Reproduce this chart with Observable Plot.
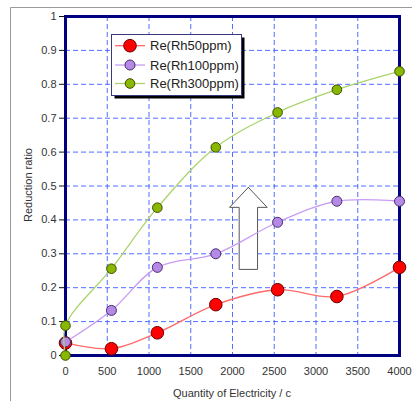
<!DOCTYPE html>
<html><head><meta charset="utf-8">
<script src="https://cdn.jsdelivr.net/npm/d3@7"></script>
<script src="https://cdn.jsdelivr.net/npm/@observablehq/plot@0.6"></script>
<style>
html,body{margin:0;padding:0;background:#fff;overflow:hidden}
#wrap{position:relative;width:412px;height:401px}
</style></head><body><div id="wrap"></div>
<script>
// ---- data ----
const qty = [0, 550, 1100, 1800, 2540, 3250, 4000];
const rh50 = [0.037, 0.02, 0.067, 0.15, 0.194, 0.174, 0.26];
const rh100 = [0.04, 0.133, 0.26, 0.30, 0.393, 0.455, 0.455];
const qty300 = [0, 0, 550, 1100, 1800, 2540, 3250, 4000];
const rh300 = [0, 0.088, 0.256, 0.436, 0.614, 0.717, 0.784, 0.838];
const seriesNames = ["Re(Rh50ppm)", "Re(Rh100ppm)", "Re(Rh300ppm)"];
const xTicks = [0, 500, 1000, 1500, 2000, 2500, 3000, 3500, 4000];
const yTicks = [0, 0.1, 0.2, 0.3, 0.4, 0.5, 0.6, 0.7, 0.8, 0.9, 1];
// arrow annotation (data units)
const arrowCenter = 2190, arrowHalfHead = 225, arrowHalfShaft = 110;
const arrowTop = 0.496, arrowNeck = 0.437, arrowBottom = 0.254;

const styles = [
  {line: "#ff6a6a", fill: "#ff0000", stroke: "#6e0000", r: 6.3},
  {line: "#c89cf5", fill: "#b48ae6", stroke: "#4a2d6a", r: 5},
  {line: "#aad46a", fill: "#88b800", stroke: "#3c4d00", r: 4.8}
];
const rows = [
  qty.map((q, i) => ({x: q, y: rh50[i], s: seriesNames[0]})),
  qty.map((q, i) => ({x: q, y: rh100[i], s: seriesNames[1]})),
  qty300.map((q, i) => ({x: q, y: rh300[i], s: seriesNames[2]}))
];
const arrow = [
  [arrowCenter, arrowTop],
  [arrowCenter + arrowHalfHead, arrowNeck],
  [arrowCenter + arrowHalfShaft, arrowNeck],
  [arrowCenter + arrowHalfShaft, arrowBottom],
  [arrowCenter - arrowHalfShaft, arrowBottom],
  [arrowCenter - arrowHalfShaft, arrowNeck],
  [arrowCenter - arrowHalfHead, arrowNeck],
  [arrowCenter, arrowTop]
];

const font = "'Liberation Sans', Arial, sans-serif";
const grid = {stroke: "#3d5eff", strokeOpacity: 0.9, strokeDasharray: "5,3", strokeWidth: 1};

const marks = [
  Plot.gridX(xTicks, grid),
  Plot.gridY(yTicks, grid),
  Plot.line(arrow, {x: d => d[0], y: d => d[1], fill: "white", stroke: "#555", strokeWidth: 1, curve: "linear"}),
  Plot.frame({stroke: "#000080", strokeWidth: 3}),
  Plot.axisY(yTicks, {tickSize: 6, tickPadding: 3, tickFormat: d => String(+d.toFixed(1)), fontSize: 11, fill: "#333", stroke: "#111", label: null}),
  Plot.axisX(xTicks, {tickSize: 0, tickPadding: 12, fontSize: 11, fill: "#333", label: null, tickFormat: d => String(d)})
];
rows.forEach((data, i) => {
  const st = styles[i];
  marks.push(Plot.line(data, {x: "x", y: "y", stroke: st.line, strokeWidth: 1.3, curve: "catmull-rom"}));
  marks.push(Plot.dot(data, {x: "x", y: "y", r: st.r, fill: st.fill, stroke: st.stroke, strokeWidth: 1}));
});

const chart = Plot.plot({
  width: 412, height: 401,
  marginLeft: 65, marginRight: 13, marginTop: 16, marginBottom: 46,
  style: {fontFamily: font, background: "transparent", overflow: "visible"},
  x: {domain: [0, 4000]},
  y: {domain: [0, 1]},
  marks
});
document.getElementById("wrap").appendChild(chart);

const svg = d3.select(chart);
// outer border
const b = svg.insert("g", ":first-child");
b.append("line").attr("x1", 10.5).attr("x2", 412).attr("y1", 7.5).attr("y2", 7.5).attr("stroke", "#9a9a9a");
b.append("line").attr("x1", 10.5).attr("x2", 10.5).attr("y1", 7.5).attr("y2", 401).attr("stroke", "#9a9a9a");

// axis titles
svg.append("text").attr("transform", "translate(32,185) rotate(-90)").attr("text-anchor", "middle")
  .attr("font-family", font).attr("font-size", 11).attr("fill", "#333").text("Reduction ratio");
svg.append("text").attr("x", 232).attr("y", 397).attr("text-anchor", "middle")
  .attr("font-family", font).attr("font-size", 11).attr("fill", "#333").text("Quantity of Electricity / c");

// legend
const lg = svg.append("g");
lg.append("rect").attr("x", 114.5).attr("y", 37.5).attr("width", 130).attr("height", 61).attr("fill", "#000");
lg.append("rect").attr("x", 111.5).attr("y", 34.5).attr("width", 130).attr("height", 61).attr("fill", "#fff").attr("stroke", "#3a3a7a");
const rowY = [45.7, 65, 83.5];
seriesNames.forEach((n, i) => {
  const st = styles[i];
  lg.append("line").attr("x1", 115).attr("x2", 145).attr("y1", rowY[i]).attr("y2", rowY[i]).attr("stroke", st.line).attr("stroke-width", 1.3);
  lg.append("circle").attr("cx", 130).attr("cy", rowY[i]).attr("r", st.r).attr("fill", st.fill).attr("stroke", st.stroke);
  lg.append("text").attr("x", 150).attr("y", rowY[i]).attr("dy", "0.36em").attr("text-anchor", "start").attr("font-family", font)
    .attr("font-size", 13).attr("fill", "#222").text(n);
});
</script></body></html>
